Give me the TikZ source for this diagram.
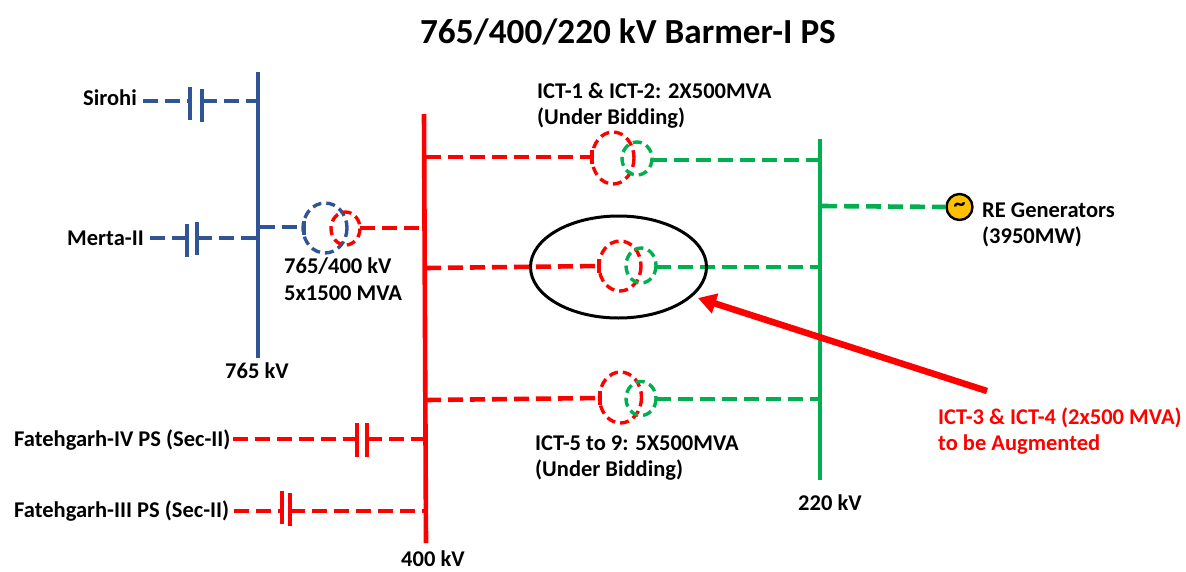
\documentclass[tikz,border=0pt]{standalone}
\usepackage{fontspec}
\setmainfont{Carlito}
\usetikzlibrary{arrows.meta}
\definecolor{busblue}{HTML}{2F5597}
\definecolor{busred}{HTML}{FF0000}
\definecolor{busgreen}{HTML}{00B050}
\definecolor{genfill}{HTML}{FFC000}
\tikzset{
  x=1pt,y=-1pt,
  bus/.style={line width=4.6pt},
  feeder/.style={line width=4.6pt,dash pattern=on 15pt off 7pt},
  plate/.style={line width=4.6pt},
  wind/.style={line width=3.4pt,dash pattern=on 9pt off 5pt},
  tick/.style={line width=3.4pt},
  lab/.style={anchor=base west,inner sep=0pt,font=\fontsize{22.5}{26}\selectfont\bfseries,text=black},
  redlab/.style={lab,text=busred},
}
\begin{document}
\begin{tikzpicture}
\useasboundingbox (0,0) rectangle (1186,571);
% title
\node[anchor=base,inner sep=0pt,font=\fontsize{35.2}{40}\selectfont\bfseries] (title) at (628,43) {765/400/220 kV Barmer-I PS};
% buses
\coordinate (b765t) at (258,72); \coordinate (b765b) at (258,358);
\coordinate (b400t) at (424,114); \coordinate (b400b) at (426,543);
\coordinate (b220t) at (820,139); \coordinate (b220b) at (820,480);
\draw[bus,busblue] (b765t) -- (b765b);
\draw[bus,busred] (b400t) -- (b400b);
\draw[bus,busgreen] (b220t) -- (b220b);
% Sirohi line
\coordinate (siS) at (143,101); \coordinate (siA) at (190,101); \coordinate (siB) at (202,101); \coordinate (siE) at (256,101);
\coordinate (siA1) at (190,87); \coordinate (siA2) at (190,120);
\coordinate (siB1) at (202,89); \coordinate (siB2) at (202,122);
\draw[feeder,busblue] (siS) -- (siA);
\draw[feeder,busblue] (siB) -- (siE);
\draw[plate,busblue] (siA1) -- (siA2);
\draw[plate,busblue] (siB1) -- (siB2);
% Merta-II line
\coordinate (meS) at (150,238); \coordinate (meA) at (187,238); \coordinate (meB) at (197,238); \coordinate (meE) at (256,238);
\coordinate (meA1) at (187,224); \coordinate (meA2) at (187,257);
\coordinate (meB1) at (197,222); \coordinate (meB2) at (197,255);
\draw[feeder,busblue] (meS) -- (meA);
\draw[feeder,busblue] (meB) -- (meE);
\draw[plate,busblue] (meA1) -- (meA2);
\draw[plate,busblue] (meB1) -- (meB2);
% 765/400 transformer
\coordinate (t0a) at (260,227); \coordinate (t0b) at (304,227);
\coordinate (t0t1) at (304,221); \coordinate (t0t2) at (304,235);
\coordinate (t0c) at (360,228); \coordinate (t0d) at (423,228);
\coordinate (t0H) at (325,228); \coordinate (t0L) at (345.5,228.5);
\draw[feeder,busblue] (t0a) -- (t0b);
\draw[tick,busblue] (t0t1) -- (t0t2);
\draw[wind,busblue] (t0H) ellipse [x radius=22,y radius=25];
\draw[wind,busred] (t0L) ellipse [x radius=14.5,y radius=16.5];
\draw[feeder,busred] (t0c) -- (t0d);
% ICT-1/2
\coordinate (t1a) at (426,157); \coordinate (t1b) at (592,157);
\coordinate (t1t1) at (592,150); \coordinate (t1t2) at (592,164);
\coordinate (t1c) at (652,160); \coordinate (t1d) at (818,160);
\coordinate (t1H) at (613,158); \coordinate (t1L) at (637,158.5);
\draw[feeder,busred] (t1a) -- (t1b);
\draw[tick,busred] (t1t1) -- (t1t2);
\draw[wind,busred] (t1H) ellipse [x radius=21,y radius=26];
\draw[wind,busgreen] (t1L) ellipse [x radius=15,y radius=16.5];
\draw[feeder,busgreen] (t1c) -- (t1d);
% ICT-3/4
\coordinate (t2a) at (426,268); \coordinate (t2b) at (599,266);
\coordinate (t2t1) at (599,259); \coordinate (t2t2) at (599,273);
\coordinate (t2c) at (656,267); \coordinate (t2d) at (818,267);
\coordinate (t2H) at (620,266); \coordinate (t2L) at (641,265.5);
\draw[feeder,busred] (t2a) -- (t2b);
\draw[tick,busred] (t2t1) -- (t2t2);
\draw[wind,busred] (t2H) ellipse [x radius=21,y radius=25];
\draw[wind,busgreen] (t2L) ellipse [x radius=15,y radius=17.5];
\draw[feeder,busgreen] (t2c) -- (t2d);
% ICT-5..9
\coordinate (t3a) at (426,400); \coordinate (t3b) at (600,398);
\coordinate (t3t1) at (600,391); \coordinate (t3t2) at (600,405);
\coordinate (t3c) at (656,399); \coordinate (t3d) at (818,399);
\coordinate (t3H) at (620.5,397.5); \coordinate (t3L) at (641,398.5);
\draw[feeder,busred] (t3a) -- (t3b);
\draw[tick,busred] (t3t1) -- (t3t2);
\draw[wind,busred] (t3H) ellipse [x radius=21,y radius=25.5];
\draw[wind,busgreen] (t3L) ellipse [x radius=15,y radius=17];
\draw[feeder,busgreen] (t3c) -- (t3d);
% highlight ellipse
\coordinate (hl) at (618.5,267);
\draw[line width=3pt,black] (hl) ellipse [x radius=88,y radius=51];
% arrow
\coordinate (arS) at (987,391); \coordinate (arE) at (698,298);
\draw[line width=6.5pt,busred,-{Triangle[length=18pt,width=20pt]}] (arS) -- (arE);
% generator
\node[circle,draw=black,fill=genfill,line width=2.4pt,minimum size=26pt,inner sep=0pt,font=\fontsize{24}{24}\selectfont\bfseries] (gen) at (959.5,207) {\textasciitilde};
\coordinate (genS) at (822,206);
\draw[feeder,busgreen] (genS) -- (gen.west);
% Fatehgarh IV
\coordinate (fiS) at (233,439); \coordinate (fiA) at (357,439); \coordinate (fiB) at (367,439); \coordinate (fiE) at (424,439);
\coordinate (fiA1) at (357,423); \coordinate (fiA2) at (357,457);
\coordinate (fiB1) at (367,423); \coordinate (fiB2) at (367,457);
\draw[feeder,busred] (fiS) -- (fiA);
\draw[feeder,busred] (fiB) -- (fiE);
\draw[plate,busred] (fiA1) -- (fiA2);
\draw[plate,busred] (fiB1) -- (fiB2);
% Fatehgarh III
\coordinate (ftS) at (234,511); \coordinate (ftA) at (282,511); \coordinate (ftB) at (290,511); \coordinate (ftE) at (424,511);
\coordinate (ftA1) at (282,491); \coordinate (ftA2) at (282,524);
\coordinate (ftB1) at (290,493); \coordinate (ftB2) at (290,526);
\draw[feeder,busred] (ftS) -- (ftA);
\draw[feeder,busred] (ftB) -- (ftE);
\draw[plate,busred] (ftA1) -- (ftA2);
\draw[plate,busred] (ftB1) -- (ftB2);
% labels
\node[lab] (lsi) at (83,105) {Sirohi};
\node[lab] (lme) at (67,245) {Merta-II};
\node[lab] (lt0a) at (284,273) {765/400 kV};
\node[lab] (lt0b) at (284,300) {5x1500 MVA};
\node[lab] (l765) at (225,378) {765 kV};
\node[lab] (l1a) at (537,98) {ICT-1 \& ICT-2: 2X500MVA};
\node[lab] (l1b) at (537,124) {(Under Bidding)};
\node[lab] (l5a) at (535,450) {ICT-5 to 9: 5X500MVA};
\node[lab] (l5b) at (535,476) {(Under Bidding)};
\node[lab] (lrea) at (982,217) {RE Generators};
\node[lab] (lreb) at (982,243) {(3950MW)};
\node[lab] (l220) at (798,510) {220 kV};
\node[lab] (l400) at (401,566) {400 kV};
\node[lab] (lfi) at (14,446) {Fatehgarh-IV PS (Sec-II)};
\node[lab] (lft) at (14,517) {Fatehgarh-III PS (Sec-II)};
\node[redlab] (lr1) at (938,424) {ICT-3 \& ICT-4 (2x500 MVA)};
\node[redlab] (lr2) at (938,450) {to be Augmented};
\end{tikzpicture}
\end{document}
